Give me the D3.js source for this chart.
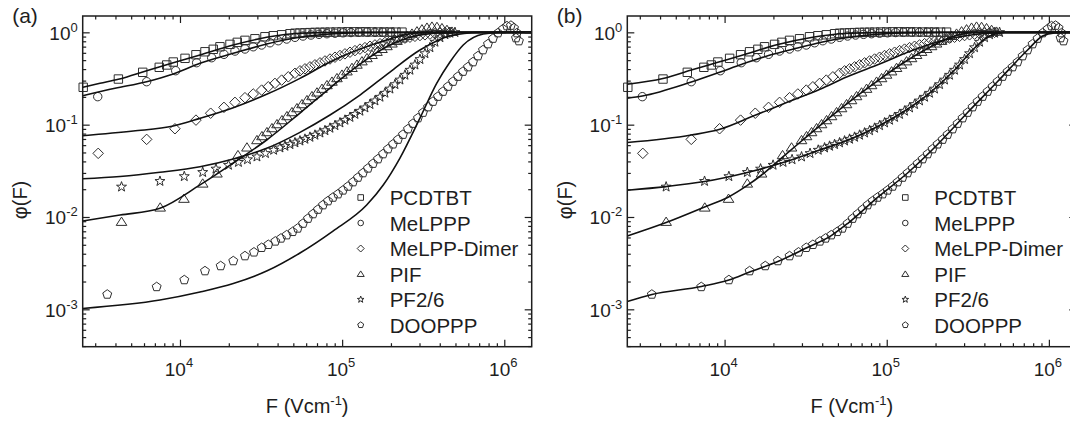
<!DOCTYPE html>
<html><head><meta charset="utf-8">
<script src="https://cdn.jsdelivr.net/npm/d3@7"></script>
<style>
html,body{margin:0;padding:0;background:#fff;}
svg{display:block;font-family:"Liberation Sans",Arial,Helvetica,sans-serif;}
</style></head>
<body><svg id="chart" width="1070" height="421"></svg>
<script>
// Measured yield phi(F) versus field F (V/cm) for six materials
const seriesNames = ["PCDTBT", "MeLPPP", "MeLPP-Dimer", "PIF", "PF2/6", "DOOPPP"];
const symbolKinds = ["square", "circle", "diamond", "triangle", "star", "pentagon"];

const pcdtbt = [[2530,0.254],[4170,0.312],[5890,0.369],[7450,0.418],[8280,0.443],[9090,0.477],[10740,0.523],[12550,0.572],[14260,0.616],[16040,0.655],[17640,0.698],[20340,0.741],[22560,0.779],[25160,0.819],[29000,0.852],[33420,0.896],[37600,0.919],[42370,0.941],[47680,0.966],[51180,0.978],[54950,0.983],[58990,0.988],[63330,0.993],[67990,0.998],[73000,1.0],[78370,1.003],[84140,1.005],[91700,1.008],[99800,1.01],[108700,1.013],[118300,1.013],[128800,1.013],[140300,1.013],[152900,1.01],[166400,1.008],[181100,1.008],[197200,1.008],[214800,1.005],[233900,1.005]];

const melppp = [[3110,0.201],[6230,0.292],[9410,0.384],[12670,0.469],[15680,0.531],[18670,0.578],[21830,0.627],[25160,0.660],[28290,0.698],[31890,0.729],[35890,0.771],[40360,0.811],[45490,0.846],[51180,0.883],[57350,0.912],[64240,0.935],[71970,0.951],[80620,0.966],[90330,0.978],[101200,0.988],[113400,0.995],[127000,1.0],[142300,1.003],[159400,1.003],[178600,1.003],[200000,1.0]];

const melppDimer = [[3130,0.0489],[6230,0.0693],[9310,0.0903],[12550,0.112],[15460,0.133],[18670,0.154],[21830,0.1745],[25160,0.196],[28290,0.215],[31890,0.237],[35040,0.2575],[38530,0.280],[42370,0.304],[46550,0.330],[51180,0.360],[54950,0.383],[58990,0.4025],[63330,0.423],[67990,0.445],[73000,0.4675],[78370,0.490],[84140,0.514],[90330,0.5375],[96970,0.561],[104100,0.585],[111800,0.609],[120000,0.634],[128800,0.658],[138300,0.683],[148500,0.707],[159400,0.731],[171200,0.754],[183700,0.777],[197200,0.801],[211800,0.823],[227300,0.844],[244000,0.865],[262000,0.885],[281300,0.905],[302000,0.923],[324200,0.940],[348000,0.956],[373700,0.971],[401200,0.983],[430700,0.993],[462400,1.0]];

const pif = [[4360,0.00889],[7550,0.0127],[10580,0.0158],[13810,0.0231],[16910,0.0297],[22780,0.0469],[25880,0.0568],[29830,0.0682],[32020,0.0753],[34380,0.0832],[36920,0.0919],[39640,0.1015],[42550,0.1122],[45680,0.124],[49050,0.137],[52650,0.1513],[56530,0.1672],[60680,0.1848],[65150,0.2042],[69940,0.2239],[75100,0.2455],[80620,0.2687],[86560,0.2931],[92920,0.3199],[99750,0.3491],[107100,0.379],[115000,0.413],[123400,0.448],[132500,0.487],[142300,0.527],[152800,0.571],[164000,0.617],[176100,0.663],[189000,0.711],[202900,0.760],[217900,0.811],[233800,0.863],[251000,0.917],[269500,0.971],[289400,1.028],[310700,1.081],[333500,1.127],[358000,1.156],[384400,1.147],[412700,1.113],[443100,1.065],[475700,1.020]];

const pf26 = [[4360,0.0212],[7525,0.0244],[10630,0.0275],[13810,0.0305],[16670,0.0332],[19910,0.0365],[22940,0.0392],[26070,0.0419],[29830,0.0449],[33660,0.0489],[37810,0.0531],[41360,0.0562],[44410,0.0586],[47680,0.0611],[51180,0.0638],[54950,0.0668],[58990,0.0698],[63330,0.0733],[67990,0.0772],[73000,0.0816],[78370,0.0864],[84140,0.0919],[90330,0.098],[96970,0.1049],[104100,0.1122],[111800,0.1204],[120000,0.1297],[128800,0.1405],[138300,0.1525],[148500,0.166],[159400,0.1816],[171200,0.1992],[183700,0.220],[197200,0.2442],[211800,0.2727],[227300,0.3058],[244000,0.3447],[262000,0.3905],[281300,0.4447],[302000,0.510],[324200,0.590],[348000,0.685],[373700,0.785],[401200,0.879],[430700,0.947],[462400,0.983],[496400,1.0]];

const dooppp = [[3560,0.00145],[7180,0.00175],[10630,0.00208],[14260,0.0026],[17820,0.00295],[21310,0.00334],[25160,0.00378],[28590,0.00415],[31890,0.00465],[35040,0.00501],[38700,0.00545],[41950,0.00587],[45490,0.00637],[49550,0.00692],[53210,0.00753],[57350,0.0085],[61570,0.00962],[66100,0.01078],[70960,0.01205],[76190,0.01347],[81800,0.01489],[87820,0.01628],[94280,0.0177],[101200,0.01945],[108700,0.02144],[116700,0.0239],[125200,0.02678],[134400,0.02995],[144300,0.03365],[155000,0.03787],[166400,0.04243],[178700,0.0481],[191700,0.05443],[205800,0.0614],[221100,0.069],[237200,0.0781],[254700,0.0896],[273400,0.1028],[293600,0.1179],[315200,0.1353],[338400,0.1552],[363200,0.178],[390000,0.2017],[418700,0.2285],[449500,0.2588],[482600,0.2932],[518100,0.3321],[556300,0.3762],[597200,0.421],[641200,0.4769],[688300,0.5538],[738900,0.6432],[793300,0.747],[851700,0.857],[914300,0.983],[981600,1.086],[1039000,1.17],[1099000,1.185],[1148000,1.113],[1197000,0.983],[1181000,0.868],[1231000,0.805]];

// Model curves, panel (a)
const fitA_pcdtbt = [[2512,0.2536],[3211,0.2803],[4165,0.3097],[6230,0.3837],[9090,0.4687],[13286,0.5678],[21310,0.7286],[34230,0.8829],[54950,0.978],[96970,1.0],[1476000,1.0]];
const fitA_melppp = [[2512,0.2057],[3975,0.2474],[6230,0.2918],[9090,0.3535],[13286,0.4617],[21310,0.5923],[34230,0.747],[54950,0.883],[84140,0.9585],[128800,0.9926],[227300,1.0],[1476000,1.0]];
const fitA_dimer = [[2512,0.0758],[5152,0.0853],[9090,0.0966],[13286,0.117],[21310,0.1525],[34230,0.213],[54950,0.3175],[84140,0.4769],[163300,0.7602],[288100,0.9827],[401200,1.0],[1476000,1.0]];
const fitA_pif = [[2512,0.00904],[4266,0.0105],[7525,0.01242],[13286,0.02224],[21310,0.03843],[34230,0.0682],[54950,0.1336],[84140,0.2492],[128800,0.4537],[197200,0.7286],[302000,0.935],[462400,0.995],[708000,1.0],[1476000,1.0]];
const fitA_pf26 = [[2512,0.02595],[4266,0.02746],[7525,0.03047],[13286,0.03498],[21310,0.04243],[34230,0.05539],[54950,0.08258],[84140,0.1272],[128800,0.2094],[197200,0.3715],[302000,0.6432],[462400,0.912],[708000,0.995],[940500,1.0],[1476000,1.0]];
const fitA_dooppp = [[2512,0.001022],[7525,0.00126],[13286,0.001538],[21310,0.001902],[34230,0.002595],[54950,0.004074],[87820,0.007042],[141700,0.01347],[179300,0.0222],[227300,0.0435],[302000,0.1179],[382800,0.2802],[462400,0.4769],[558300,0.7286],[742000,0.9585],[940500,0.9975],[1249000,1.0],[1476000,1.0]];

// Model curves, panel (b)
const fitB_pcdtbt = [[2512,0.274],[4165,0.316],[6230,0.3905],[9090,0.4734],[13286,0.575],[21310,0.7378],[34230,0.8786],[54950,0.9706],[84140,0.9926],[148500,1.0],[1476000,1.0]];
const fitB_melppp = [[2512,0.1932],[3108,0.2042],[6230,0.2895],[9410,0.3715],[12670,0.4481],[18670,0.5608],[28170,0.6761],[40210,0.7852],[54950,0.8676],[84140,0.9467],[128800,0.9877],[227300,1.0],[1476000,1.0]];
const fitB_dimer = [[2512,0.064],[6230,0.0772],[9350,0.0892],[15030,0.124],[24110,0.1736],[38750,0.2419],[56530,0.3279],[90330,0.4537],[146000,0.6432],[227300,0.8254],[348000,0.9467],[533000,0.995],[1476000,1.0]];
const fitB_pif = [[2512,0.00623],[4360,0.00871],[7525,0.01283],[10580,0.01648],[13810,0.02197],[16910,0.0285],[22780,0.04458],[29830,0.06652],[42550,0.1122],[60680,0.1848],[86560,0.2931],[123400,0.4537],[176100,0.6595],[251000,0.8895],[348000,0.995],[533000,1.0],[1476000,1.0]];
const fitB_pf26 = [[2512,0.0195],[4360,0.02133],[7525,0.02418],[13810,0.03032],[22940,0.03892],[37810,0.05245],[58990,0.06899],[90330,0.0978],[128800,0.1405],[183700,0.22],[262000,0.3905],[348000,0.6761],[430700,0.912],[533000,0.995],[708000,1.0],[1476000,1.0]];
const fitB_dooppp = [[2512,0.001214],[3562,0.001446],[7181,0.001763],[10630,0.002075],[14262,0.002531],[21310,0.003295],[31890,0.004612],[45490,0.006292],[57350,0.008495],[87820,0.01628],[134400,0.02995],[205800,0.06094],[315200,0.1353],[482600,0.2932],[738900,0.6432],[914300,0.912],[1084000,0.9877],[1476000,1.0]];

const xTickExponents = [4, 5, 6];
const yTickExponents = [0, -1, -2, -3];
const xDomain = [2512, 1.476e6];
const yDomain = [3.936e-4, 1.503];

const measured = [pcdtbt, melppp, melppDimer, pif, pf26, dooppp];
const panels = [
  { left: 82.7, label: "(a)", fits: [fitA_pcdtbt, fitA_melppp, fitA_dimer, fitA_pif, fitA_pf26, fitA_dooppp] },
  { left: 627.3, label: "(b)", fits: [fitB_pcdtbt, fitB_melppp, fitB_dimer, fitB_pif, fitB_pf26, fitB_dooppp] }
];

const PW = 449, TOP = 16, BOTTOM = 346.7;
const INK = "#1e1e1e", MARK = "#2e2e2e";
const svg = d3.select("#chart");
const defs = svg.append("defs");

// Outline marker shapes, r is the nominal half-size
function symbolPath(kind, r) {
  const p = d3.path();
  if (kind === "square") {
    p.rect(-r, -r, 2 * r, 2 * r);
  } else if (kind === "circle") {
    p.moveTo(r, 0); p.arc(0, 0, r, 0, 2 * Math.PI); p.closePath();
  } else if (kind === "diamond") {
    const d = r * 1.25;
    p.moveTo(0, -d); p.lineTo(d, 0); p.lineTo(0, d); p.lineTo(-d, 0); p.closePath();
  } else if (kind === "triangle") {
    const h = r * 1.1;
    p.moveTo(0, -h); p.lineTo(h * 1.15, h * 0.8); p.lineTo(-h * 1.15, h * 0.8); p.closePath();
  } else if (kind === "star") {
    for (let i = 0; i < 10; i++) {
      const rr = i % 2 ? r * 0.5 : r * 1.25;
      const a = -Math.PI / 2 + i * Math.PI / 5;
      const px = rr * Math.cos(a), py = rr * Math.sin(a);
      if (i === 0) p.moveTo(px, py); else p.lineTo(px, py);
    }
    p.closePath();
  } else {
    const rr = r * 1.12;
    for (let i = 0; i < 5; i++) {
      const a = -Math.PI / 2 + i * 2 * Math.PI / 5;
      const px = rr * Math.cos(a), py = rr * Math.sin(a);
      if (i === 0) p.moveTo(px, py); else p.lineTo(px, py);
    }
    p.closePath();
  }
  return p.toString();
}

function isDecade(v) {
  const l = Math.log10(v);
  return Math.abs(l - Math.round(l)) < 1e-6;
}

panels.forEach((panel, pi) => {
  const L = panel.left, R = L + PW;
  const x = d3.scaleLog().domain(xDomain).range([L, R]);
  const y = d3.scaleLog().domain(yDomain).range([BOTTOM, TOP]);
  const g = svg.append("g");

  const clipId = "plotclip" + pi;
  defs.append("clipPath").attr("id", clipId)
    .append("rect").attr("x", L).attr("y", TOP).attr("width", PW).attr("height", BOTTOM - TOP);

  // measured points
  measured.forEach((data, si) => {
    const d = symbolPath(symbolKinds[si], 4.2);
    g.append("g").selectAll("path").data(data).join("path")
      .attr("transform", v => `translate(${x(v[0])},${y(v[1])})`)
      .attr("d", d)
      .attr("fill", "none").attr("stroke", MARK).attr("stroke-width", 1);
  });

  // model curves
  const line = d3.line().x(v => x(v[0])).y(v => y(v[1])).curve(d3.curveMonotoneX);
  g.append("g").attr("clip-path", `url(#${clipId})`)
    .selectAll("path").data(panel.fits).join("path")
    .attr("d", line)
    .attr("fill", "none").attr("stroke", "#111").attr("stroke-width", 1.6);

  // axes: ticks point inward on all four sides
  const majorX = xTickExponents.map(e => Math.pow(10, e));
  const minorX = x.ticks().filter(v => !isDecade(v));
  const majorY = yTickExponents.map(e => Math.pow(10, e));
  const minorY = y.ticks().filter(v => !isDecade(v));
  const ax = g.append("g");
  const addAxis = (gen, scale, values, size, transform) => {
    const a = ax.append("g").attr("transform", transform)
      .call(gen(scale).tickValues(values).tickSize(-size).tickFormat(""));
    a.select(".domain").remove();
    a.selectAll("line").attr("stroke", INK).attr("stroke-width", 1.2);
  };
  addAxis(d3.axisBottom, x, majorX, 7, `translate(0,${BOTTOM})`);
  addAxis(d3.axisBottom, x, minorX, 3.5, `translate(0,${BOTTOM})`);
  addAxis(d3.axisTop, x, majorX, 7, `translate(0,${TOP})`);
  addAxis(d3.axisTop, x, minorX, 3.5, `translate(0,${TOP})`);
  addAxis(d3.axisLeft, y, majorY, 7, `translate(${L},0)`);
  addAxis(d3.axisLeft, y, minorY, 3.5, `translate(${L},0)`);
  addAxis(d3.axisRight, y, majorY, 7, `translate(${R},0)`);
  addAxis(d3.axisRight, y, minorY, 3.5, `translate(${R},0)`);

  g.append("rect").attr("x", L).attr("y", TOP).attr("width", PW).attr("height", BOTTOM - TOP)
    .attr("fill", "none").attr("stroke", INK).attr("stroke-width", 1.5);

  // tick labels as powers of ten
  xTickExponents.forEach(e => {
    const t = g.append("text").attr("x", x(Math.pow(10, e)) - 1).attr("y", BOTTOM + 29.5)
      .attr("text-anchor", "middle").attr("fill", INK).style("font-size", "19px");
    t.append("tspan").text("10");
    t.append("tspan").attr("dy", -9).style("font-size", "13px").text(e);
  });
  yTickExponents.forEach(e => {
    const t = g.append("text").attr("x", L - 5).attr("y", y(Math.pow(10, e)) + 7.5)
      .attr("text-anchor", "end").attr("fill", INK).style("font-size", "19px");
    t.append("tspan").text("10");
    t.append("tspan").attr("dy", -8).style("font-size", "13px").text(e);
  });

  // axis titles
  const xt = g.append("text").attr("x", L + 224.5).attr("y", 412.5)
    .attr("text-anchor", "middle").attr("fill", INK).style("font-size", "20px");
  xt.append("tspan").text("F (Vcm");
  xt.append("tspan").attr("dy", -8).style("font-size", "13px").text("-1");
  xt.append("tspan").attr("dy", 8).text(")");

  g.append("text").attr("transform", `translate(${L - 55.5},${200}) rotate(-90)`)
    .attr("text-anchor", "middle").attr("fill", INK).style("font-size", "20px").text("φ(F)");

  g.append("text").attr("x", L - 70.5).attr("y", 23).attr("fill", INK)
    .style("font-size", "21px").text(panel.label);

  // legend
  const lg = g.append("g");
  seriesNames.forEach((name, si) => {
    const ry = 197.5 + si * 25.5;
    lg.append("path").attr("transform", `translate(${L + 278},${ry})`)
      .attr("d", symbolPath(symbolKinds[si], 2.8))
      .attr("fill", "none").attr("stroke", MARK).attr("stroke-width", 1);
    lg.append("text").attr("x", L + 307).attr("y", ry + 7.5).attr("fill", INK)
      .style("font-size", "20.5px").text(name);
  });
});
</script></body></html>
